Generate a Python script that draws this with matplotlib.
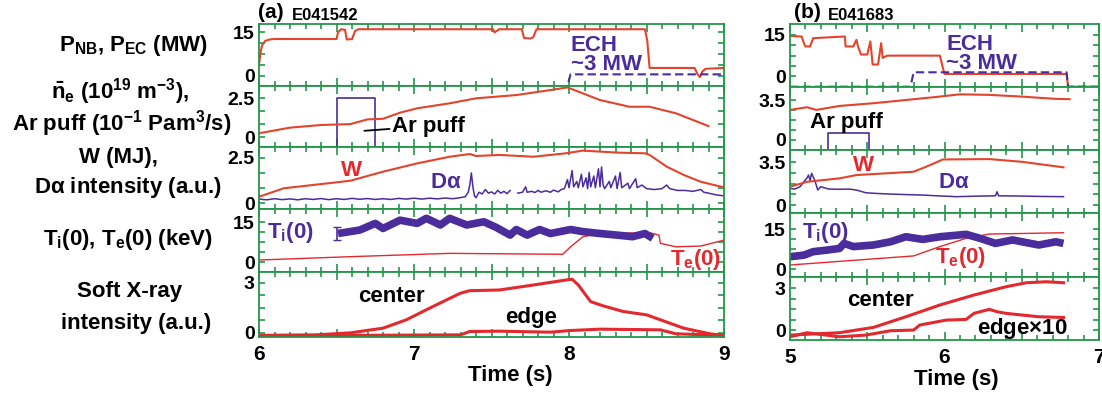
import numpy as np
import matplotlib
matplotlib.use('Agg')
import matplotlib.pyplot as plt
from matplotlib.ticker import MultipleLocator, FuncFormatter

plt.rcParams['font.family'] = ['Liberation Sans', 'DejaVu Sans']
plt.rcParams['font.weight'] = 'bold'
plt.rcParams['mathtext.fontset'] = 'custom'
plt.rcParams['mathtext.rm'] = 'Liberation Sans:bold'
plt.rcParams['mathtext.it'] = 'Liberation Sans:bold'
plt.rcParams['mathtext.bf'] = 'Liberation Sans:bold'

RED = '#e2442c'
RED2 = '#e3282e'
PURPLE = '#4a2c9c'
GREEN = '#23964a'

# ---------------- shot (a) E041542 ----------------
a_pnb_t = [6.0, 6.01, 6.02, 6.04, 6.07, 6.10, 6.50, 6.51, 6.53, 6.555, 6.566, 6.60, 6.62, 6.64,
           7.51, 7.52, 7.53, 7.55, 7.695, 7.71, 7.75, 7.77, 7.79, 8.49, 8.505, 8.52,
           8.81, 8.83, 8.845, 8.86, 8.88, 9.0]
a_pnb = [3.8, 8.0, 10.5, 12.0, 12.5, 12.65, 12.65, 15.0, 16.0, 15.8, 12.5, 12.6, 15.4, 16.0,
         16.0, 14.9, 15.3, 16.0, 16.0, 13.0, 12.8, 13.3, 16.0, 16.0, 12.0, 2.7,
         2.7, 0.5, -0.45, 1.4, 2.4, 2.7]
a_ech_t = [6.0, 7.99, 8.01, 9.0]
a_ech = [-3.5, -3.5, 0.5, 0.5]

a_ne_t = [6.0, 6.2, 6.4, 6.59, 6.70, 6.80, 6.91, 7.02, 7.23, 7.40, 7.66, 7.88, 7.99, 8.2, 8.39, 8.52, 8.69, 8.90]
a_ne = [0.24, 0.6, 0.77, 0.83, 1.13, 1.17, 1.56, 1.84, 2.16, 2.48, 2.69, 3.01, 3.18, 2.37, 1.94, 1.94, 1.52, 0.7]
a_ar_t = [6.0, 6.5, 6.5, 6.75, 6.75, 9.0]
a_ar = [-0.64, -0.64, 2.5, 2.5, -0.64, -0.64]

a_w_t = [6.0, 6.16, 6.48, 6.59, 6.80, 7.02, 7.23, 7.36, 7.40, 7.55, 7.77, 7.98, 8.09, 8.31, 8.49, 8.52,
         8.63, 8.74, 8.85, 9.0]
a_w = [0.35, 0.82, 1.13, 1.24, 1.74, 2.2, 2.57, 2.72, 2.61, 2.67, 2.57, 2.76, 2.91, 2.8, 2.76, 2.67,
       2.02, 1.56, 1.18, 0.87]
a_da_t = [6.00, 6.05, 6.10, 6.15, 6.20, 6.25, 6.30, 6.35, 6.40, 6.45, 6.50, 6.55, 6.60, 6.65, 6.70,
          6.75, 6.80, 6.85, 6.90, 6.95, 7.00, 7.05, 7.10, 7.15, 7.20, 7.25, 7.30, 7.33, 7.35, 7.36,
          7.37, 7.38, 7.39, 7.40, 7.42, 7.44, 7.46, 7.48, 7.50, 7.52, 7.54, 7.56, 7.58, 7.60, 7.62,
          7.64, 7.67, 7.70, 7.72, 7.73, 7.76, 7.78, 7.80, 7.82, 7.85, 7.88, 7.90, 7.93, 7.95, 7.97,
          7.99, 8.00, 8.02, 8.03, 8.05, 8.06, 8.08, 8.09, 8.11, 8.12, 8.13, 8.14, 8.16, 8.17, 8.19,
          8.20, 8.21, 8.22, 8.23, 8.26, 8.27, 8.30, 8.31, 8.33, 8.34, 8.38, 8.39, 8.43, 8.44, 8.47,
          8.50, 8.55, 8.60, 8.63, 8.65, 8.70, 8.75, 8.80, 8.85, 8.87, 8.90, 8.95, 9.0]
a_da = [0.22, 0.18, 0.24, 0.19, 0.23, 0.18, 0.24, 0.20, 0.25, 0.19, 0.24, 0.20, 0.26, 0.21, 0.25,
        0.20, 0.24, 0.20, 0.26, 0.22, 0.27, 0.22, 0.27, 0.23, 0.28, 0.24, 0.30, 0.35, 0.6, 1.0,
        1.67, 0.9, 0.4, 0.3, 0.6, 0.5, 0.75, 0.55, 0.62, 0.5, 0.7, 0.55, 0.65, 0.52, 0.7,
        np.nan, 0.55, 0.6, 0.9, 0.6, 0.65, 0.58, 0.7, 0.6, 0.68, 0.6, 0.72, 0.62, 0.75, 0.8,
        1.3, 0.85, 1.8, 0.9, 1.2, 0.85, 1.6, 0.9, 1.4, 0.8, 1.7, 0.9, 1.5, 0.85, 1.9,
        0.9, 2.0, 1.0, 0.8, 1.2, 0.85, 1.5, 0.8, 1.7, 0.85, 1.1, 0.8, 1.35, 0.85, 1.0,
        0.8, 0.75, 0.8, 1.0, 0.8, 0.7, 0.7, 0.65, 0.75, 0.6, 0.55, 0.45, 0.4]

a_ti_t = [6.51, 6.65, 6.75, 6.80, 6.91, 7.02, 7.08, 7.17, 7.23, 7.34, 7.45, 7.53, 7.62, 7.66, 7.73,
          7.81, 7.88, 8.01, 8.09, 8.20, 8.31, 8.41, 8.49, 8.54]
a_ti = [10.7, 12.0, 14.5, 12.6, 15.7, 14.5, 16.4, 13.9, 16.4, 13.9, 15.1, 13.0, 10.1, 12.2, 10.1,
        12.2, 10.7, 12.2, 11.4, 10.7, 10.1, 9.5, 10.7, 8.9]
a_te_t = [6.0, 6.59, 7.23, 7.96, 8.01, 8.09, 8.2, 8.52, 8.58, 8.59, 8.69, 8.85, 9.0]
a_te = [0.75, 2.0, 3.25, 2.9, 5.7, 9.5, 10.7, 11.0, 10.1, 7.0, 5.7, 6.0, 8.2]

a_sxc_t = [6.0, 6.37, 6.59, 6.80, 6.95, 7.12, 7.30, 7.36, 7.55, 7.77, 7.98, 8.02, 8.06, 8.14, 8.22,
           8.35, 8.50, 8.59, 8.74, 8.91, 9.0]
a_sxc = [-0.15, -0.12, 0.0, 0.28, 0.78, 1.57, 2.38, 2.53, 2.57, 2.87, 3.17, 3.22, 2.87, 1.87, 1.62,
         1.28, 1.08, 0.78, 0.28, -0.06, -0.16]
a_sxe_t = [6.0, 7.30, 7.36, 7.55, 7.88, 8.01, 8.2, 8.59, 8.69, 9.0]
a_sxe = [-0.18, -0.12, 0.08, 0.10, 0.04, 0.14, 0.22, 0.18, -0.06, -0.15]

# ---------------- shot (b) E041683 ----------------
b_pnb_t = [5.0, 5.075, 5.09, 5.10, 5.13, 5.15, 5.355, 5.36, 5.41, 5.43, 5.44, 5.46, 5.50, 5.52,
           5.535, 5.57, 5.59, 5.60, 5.63, 5.97, 5.99, 6.0, 6.79, 6.80, 7.0]
b_pnb = [14.6, 14.4, 12.0, 10.8, 10.8, 13.8, 14.4, 10.8, 10.8, 13.2, 10.8, 7.9, 7.9, 12.6,
         4.3, 4.3, 12.0, 6.7, 7.5, 7.5, 3.0, 0.9, 0.9, -3.7, -3.7]
b_ech_t = [5.0, 5.78, 5.80, 6.79, 6.80, 7.0]
b_ech = [-3.7, -3.7, 1.5, 1.5, -3.7, -3.7]

b_ne_t = [5.0, 5.11, 5.17, 5.32, 5.54, 5.75, 5.97, 6.10, 6.29, 6.50, 6.72, 6.81]
b_ne = [2.63, 2.87, 2.63, 2.98, 3.22, 3.5, 3.8, 4.0, 3.95, 3.8, 3.6, 3.57]
b_ar_t = [5.0, 5.245, 5.245, 5.51, 5.51, 7.0]
b_ar = [-0.84, -0.84, 0.59, 0.59, -0.84, -0.84]

b_w_t = [5.0, 5.11, 5.32, 5.43, 5.80, 5.88, 5.99, 6.29, 6.50, 6.77]
b_w = [1.49, 1.89, 2.17, 2.44, 2.71, 3.11, 3.71, 3.74, 3.52, 3.07]
b_da_t = [5.0, 5.03, 5.065, 5.09, 5.11, 5.12, 5.13, 5.14, 5.15, 5.16, 5.18, 5.20, 5.25, 5.32, 5.38,
          5.43, 5.49, 5.55, 5.65, 5.75, 5.86, 5.95, 6.08, 6.20, 6.33, 6.34, 6.35, 6.50, 6.62, 6.77]
b_da = [1.36, 1.3, 1.49, 1.9, 2.2, 2.44, 2.0, 2.58, 2.3, 2.03, 1.22, 1.49, 1.3, 1.28, 1.3,
        1.22, 1.0, 0.95, 0.89, 0.85, 0.81, 0.75, 0.68, 0.72, 0.75, 1.08, 0.75, 0.73, 0.7, 0.68]

b_ti_t = [5.0, 5.09, 5.15, 5.24, 5.32, 5.35, 5.41, 5.54, 5.65, 5.75, 5.86, 5.97, 6.14, 6.23, 6.33,
          6.44, 6.61, 6.72, 6.77]
b_ti = [4.6, 5.2, 6.5, 7.1, 7.7, 9.6, 8.4, 9.0, 10.2, 12.1, 11.1, 12.1, 13.0, 11.5, 9.6,
        10.9, 9.0, 10.2, 9.6]
b_te_t = [5.0, 5.80, 5.97, 6.14, 6.29, 6.77]
b_te = [1.5, 4.9, 8.4, 11.5, 13.1, 13.6]

b_sxc_t = [5.0, 5.32, 5.54, 5.75, 5.97, 6.19, 6.40, 6.53, 6.66, 6.77]
b_sxc = [-0.36, -0.19, 0.19, 0.95, 1.79, 2.5, 3.1, 3.38, 3.45, 3.38]
b_sxe_t = [5.0, 5.11, 5.32, 5.49, 5.65, 5.80, 5.84, 6.01, 6.14, 6.19, 6.29, 6.34, 6.40, 6.61, 6.77]
b_sxe = [-0.48, -0.19, -0.48, -0.36, -0.05, 0.0, 0.36, 0.71, 0.76, 1.19, 1.48, 1.31, 1.19, 0.95, 0.9]

W, H = 1102, 396
fig = plt.figure(figsize=(W / 100, H / 100), dpi=100)


def px_axes(x0, y0, x1, y1):
    return fig.add_axes([x0 / W, 1 - y1 / H, (x1 - x0) / W, (y1 - y0) / H])


def ftext(x, y, s, **kw):
    fig.text(x / W, 1 - y / H, s, **kw)


def style(ax, xlim, ylim, yt, top_label, bottom_ticks):
    ax.set_xlim(xlim)
    ax.set_ylim(ylim)
    for s in ax.spines.values():
        s.set_color(GREEN)
        s.set_linewidth(1.3)
    ax.xaxis.set_major_locator(MultipleLocator(0.5))
    ax.xaxis.set_minor_locator(MultipleLocator(0.1))
    ax.set_yticks(yt)
    labels = [''] * len(yt)
    labels[0] = '0'
    labels[-1] = top_label
    ax.set_yticklabels(labels)
    ax.tick_params(which='both', direction='in', top=True, right=True, color=GREEN, width=1.2)
    ax.tick_params(which='major', length=6)
    ax.tick_params(which='minor', length=3.5)
    ax.tick_params(axis='y', length=4.5, labelsize=14, pad=3)
    if bottom_ticks:
        ax.xaxis.set_major_formatter(FuncFormatter(
            lambda v, p: f'{v:.0f}' if abs(v - round(v)) < 1e-6 else ''))
        ax.tick_params(axis='x', labelsize=15, pad=6)
    else:
        ax.tick_params(axis='x', labelbottom=False)


rows_a = [(24, 86), (86, 147), (147, 209), (209, 272), (272, 337)]
rows_b = [(24, 87), (87, 150), (150, 213), (213, 277), (277, 340)]
axa = [px_axes(259, r0, 724, r1) for r0, r1 in rows_a]
axb = [px_axes(790, r0, 1099, r1) for r0, r1 in rows_b]

# --- column (a)
ax = axa[0]
ax.plot(a_pnb_t, a_pnb, color=RED, lw=1.5)
ax.plot(a_ech_t, a_ech, color=PURPLE, lw=1.5, ls=(0, (4, 2)))
style(ax, (6, 9), (-3.5, 17.8), [0, 3.75, 7.5, 11.25, 15], '15', False)
ax.text(8.01, 10.5, 'ECH', color=PURPLE, fontsize=16, va='center')
ax.text(8.01, 4.0, '~3 MW', color=PURPLE, fontsize=16, va='center')

ax = axa[1]
ax.plot(a_ar_t, a_ar, color=PURPLE, lw=1.2)
ax.plot(a_ne_t, a_ne, color=RED, lw=1.5)
style(ax, (6, 9), (-0.64, 3.27), [0, 0.833, 1.667, 2.5], '2.5', False)
ax.annotate('Ar puff', xy=(6.68, 0.4), xytext=(6.86, 0.7), color='black', fontsize=16,
            va='center', arrowprops=dict(arrowstyle='-', color='black', lw=1.3,
                                         shrinkA=0, shrinkB=0))

ax = axa[2]
ax.plot(a_da_t, a_da, color=PURPLE, lw=1.1)
ax.plot(a_w_t, a_w, color=RED, lw=1.5)
style(ax, (6, 9), (-0.33, 3.11), [0, 0.833, 1.667, 2.5], '2.5', False)
ax.text(6.53, 1.8, 'W', color=RED2, fontsize=16, va='center')
ax.text(7.10, 1.15, r'D$\alpha$', color=PURPLE, fontsize=16, va='center')

ax = axa[3]
ax.plot(a_te_t, a_te, color=RED2, lw=1.0)
ax.plot(a_ti_t, a_ti, color=PURPLE, lw=5.5, solid_capstyle='butt')
ax.errorbar([6.5], [10.8], yerr=[2.4], color=PURPLE, lw=1.2, capsize=3)
style(ax, (6, 9), (-3.75, 19.9), [0, 3.75, 7.5, 11.25, 15], '15', False)
ax.text(6.05, 11.0, r'T$_{i}$(0)', color=PURPLE, fontsize=16, va='center')
ax.text(8.65, 0.8, r'T$_{e}$(0)', color=RED2, fontsize=16, va='center')

ax = axa[4]
ax.plot(a_sxe_t, a_sxe, color=RED2, lw=2.2)
ax.plot(a_sxc_t, a_sxc, color=RED2, lw=2.2)
style(ax, (6, 9), (-0.25, 3.65), [0, 0.75, 1.5, 2.25, 3], '3', True)
ax.text(6.64, 2.15, 'center', color='black', fontsize=16, va='center')
ax.text(7.59, 0.9, 'edge', color='black', fontsize=16, va='center')

# --- column (b)
ax = axb[0]
ax.plot(b_pnb_t, b_pnb, color=RED, lw=1.5)
ax.plot(b_ech_t, b_ech, color=PURPLE, lw=1.5, ls=(0, (4, 2)))
style(ax, (5, 7), (-3.8, 18.9), [0, 3.75, 7.5, 11.25, 15], '15', False)
ax.text(6.01, 11.5, 'ECH', color=PURPLE, fontsize=16, va='center')
ax.text(6.01, 4.7, '~3 MW', color=PURPLE, fontsize=16, va='center')

ax = axb[1]
ax.plot(b_ar_t, b_ar, color=PURPLE, lw=1.2)
ax.plot(b_ne_t, b_ne, color=RED, lw=1.5)
style(ax, (5, 7), (-0.88, 4.64), [0, 0.875, 1.75, 2.625, 3.5], '3.5', False)
ax.text(5.13, 1.55, 'Ar puff', color='black', fontsize=16, va='center')

ax = axb[2]
ax.plot(b_da_t, b_da, color=PURPLE, lw=1.1)
ax.plot(b_w_t, b_w, color=RED, lw=1.5)
style(ax, (5, 7), (-0.65, 4.48), [0, 0.875, 1.75, 2.625, 3.5], '3.5', False)
ax.text(5.41, 3.25, 'W', color=RED2, fontsize=16, va='center')
ax.text(5.96, 1.85, r'D$\alpha$', color=PURPLE, fontsize=16, va='center')

ax = axb[3]
ax.plot(b_te_t, b_te, color=RED2, lw=1.0)
ax.plot(b_ti_t, b_ti, color=PURPLE, lw=5.5, solid_capstyle='butt')
style(ax, (5, 7), (-3.0, 21.0), [0, 3.75, 7.5, 11.25, 15], '15', False)
ax.text(5.08, 13.8, r'T$_{i}$(0)', color=PURPLE, fontsize=16, va='center')
ax.text(5.94, 4.2, r'T$_{e}$(0)', color=RED2, fontsize=16, va='center')

ax = axb[4]
ax.plot(b_sxe_t, b_sxe, color=RED2, lw=2.2)
ax.plot(b_sxc_t, b_sxc, color=RED2, lw=2.2)
style(ax, (5, 7), (-0.71, 3.79), [0, 0.75, 1.5, 2.25, 3], '3', True)
ax.text(5.37, 2.1, 'center', color='black', fontsize=16, va='center')
ax.text(6.21, 0.1, r'edge$\times$10', color='black', fontsize=16, va='center')

# titles and labels
ftext(258, 13, '(a)', fontsize=15, va='center')
ftext(292, 15, 'E041542', fontsize=12, va='center')
ftext(794, 13, '(b)', fontsize=15, va='center')
ftext(828, 15, 'E041683', fontsize=12, va='center')

ftext(510, 375, 'Time (s)', fontsize=16, ha='center', va='center')
ftext(956, 380, 'Time (s)', fontsize=16, ha='center', va='center')

ftext(134, 45, r'P$_{NB}$, P$_{EC}$ (MW)', fontsize=16, ha='center', va='center')
ftext(120, 92, r'$\bar{n}_{e}$ (10$^{19}$ m$^{-3}$),', fontsize=16, ha='center', va='center')
ftext(122, 124, r'Ar puff (10$^{-1}$ Pam$^{3}$/s)', fontsize=16, ha='center', va='center')
ftext(118, 158, 'W (MJ),', fontsize=16, ha='center', va='center')
ftext(128, 188, r'D$\alpha$ intensity (a.u.)', fontsize=16, ha='center', va='center')
ftext(128, 240, r'T$_{i}$(0), T$_{e}$(0) (keV)', fontsize=16, ha='center', va='center')
ftext(130, 292, 'Soft X-ray', fontsize=16, ha='center', va='center')
ftext(136, 323, 'intensity (a.u.)', fontsize=16, ha='center', va='center')

fig.savefig('out.png', dpi=100)
